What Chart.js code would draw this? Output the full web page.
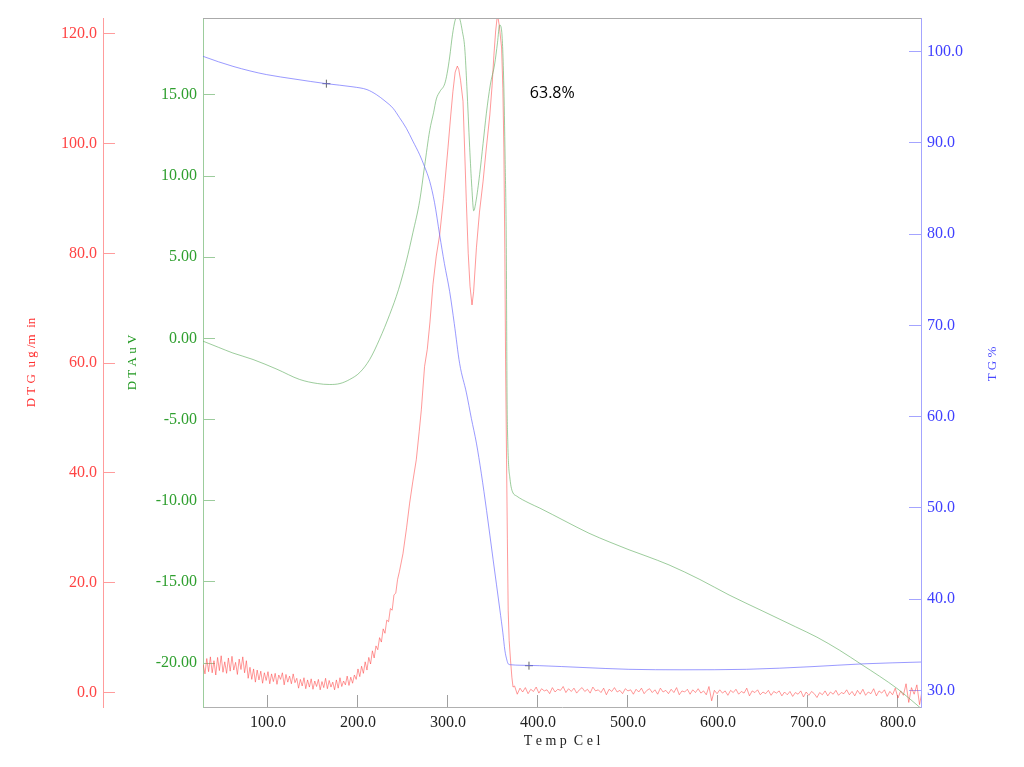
<!DOCTYPE html>
<html><head><meta charset="utf-8">
<script src="https://cdn.jsdelivr.net/npm/chart.js@4.4.1/dist/chart.umd.min.js"></script>
<style>html,body{margin:0;padding:0;background:#fff;}canvas{display:block;}</style>
</head><body>
<canvas id="c" width="1024" height="767"></canvas>
<script>
// ---- tick labels ----
const xTicks=[100,200,300,400,500,600,700,800];
const dtgTicks=[0,20,40,60,80,100,120];
const dtaTicks=[-20,-15,-10,-5,0,5,10,15];
const tgTicks=[30,40,50,60,70,80,90,100];

// ---- DTG (ug/min) ----
const dtgTempLow=[28,30,32,34,36,38,40,42,44,46,48,50,52,54,56,58,60,62,64,66,68,70,72,74,76,
78,80,82,84,86,88,90,92,94,96,98,100,102,104,106,108,110,112,114,116,118,120,122,124,126,128,130,
132,134,136,138,140,142,144,146,148,150,152,154,156,158,160,162,164,166,168,170,172,174,176,178,180,182,184,186,188,190,192,194,196,
198,200,202,204,206,208,210,212,214,216,
218,220,222,224,226,228,230,232,234,236,238,240,242,244];
const dtgLow=[5.1,3.4,6.2,3.8,6.5,3.6,5.8,3.2,6.4,4.0,6.7,3.7,5.6,3.5,6.3,3.9,6.6,4.1,5.5,3.3,6.1,4.2,6.5,3.6,5.8,
2.6,4.6,2.4,4.3,1.9,4.1,2.3,3.9,1.7,3.6,2.2,3.8,1.6,3.4,2.0,3.5,1.5,3.2,2.4,3.6,1.4,3.3,1.9,3.0,1.6,3.4,1.8,
2.6,0.8,2.4,1.2,2.7,0.7,2.3,1.0,2.5,0.6,2.1,1.1,2.4,0.5,2.0,0.9,2.6,0.7,2.2,1.0,1.9,0.5,2.3,0.8,2.7,1.1,2.1,1.4,3.0,1.3,2.8,1.7,3.2,
2.4,4.3,2.9,4.8,3.5,5.6,4.1,6.4,5.2,7.6,
6.3,8.5,7.8,10.0,9.2,11.6,10.8,13.2,12.9,15.3,15.0,17.8,18.1,20.6];
const dtgTempPeak=[246,250,254,257.4,261,264.8,268,270.4,274,277,280,283.3,287,290.8,295,300,303,305.5,308,310.4,
312,314,316.7,318.5,320.4,322.5,324.5,326.7,328.5,331.6,335,339,342.5,346.5,349,351,353,355,357,359.6,
361,362.1,363.2,364,365.1,366,366.9,368,369.5,371,372.3];
const dtgPeak=[22.0,25.3,30.0,34.5,38.5,42.4,47.5,51.5,59.4,62.5,67.5,74.3,79.5,83.4,90.0,99.2,105.0,109.5,113.0,114.1,
113.5,111.5,107.7,99.0,89.4,80.0,74.0,70.6,73.0,81.0,87.5,93.1,99.0,105.2,110.5,116.0,120.5,123.5,121.5,117.4,
110.0,99.2,80.0,60.6,42.4,28.0,15.0,9.5,5.9,2.8,1.0];
const dtgTempHigh=[374,377,380,383,386,389,392,395,398,401,404,407,410,413,416,419,422,425,428,431,434,437,440,443,446,
449,452,455,458,461,464,467,470,473,476,479,482,485,488,491,494,497,500,503,506,509,512,515,518,521,
524,527,530,533,536,539,542,545,548,551,554,557,560,563,566,569,572,575,578,581,584,587,590,593,596,
599,602,605,608,611,614,617,620,623,626,629,632,635,638,641,644,647,650,653,656,659,662,665,668,671,
674,677,680,683,686,689,692,695,698,701,704,707,710,713,716,719,722,725,728,731,734,737,740,743,746,
749,752,755,758,761,764,767,770,773,776,779,782,785,788,791,794,797,800,803,806,809,812,815,818,821,824,827];
const dtgHigh=[1.2,-0.3,0.8,0.1,0.9,-0.2,0.6,0.2,1.0,-0.1,0.7,0.3,0.5,-0.2,0.9,0.1,0.6,0.4,1.1,0.0,0.7,0.2,0.8,-0.1,0.5,
0.9,0.2,0.6,-0.1,1.0,0.3,0.5,0.0,0.8,-0.4,0.6,0.2,0.9,0.1,0.4,-0.2,0.7,0.3,0.5,-0.3,0.6,0.1,0.8,-0.2,0.4,
0.7,0.0,0.5,-0.3,0.8,0.1,0.4,-0.2,0.6,0.0,0.9,-0.4,0.3,0.1,0.6,-0.3,0.5,0.0,0.7,-0.1,0.3,-0.4,1.1,-1.5,0.4,
-0.2,0.5,-0.1,0.3,-0.5,0.4,0.0,0.6,-0.3,0.2,-0.1,0.8,-0.6,0.3,0.0,0.5,-0.4,0.1,-0.2,0.4,-0.5,0.2,-0.1,0.3,-0.6,
0.1,-0.4,0.2,-0.7,0.0,-0.3,0.3,-0.8,0.1,-0.5,0.2,-0.2,-0.9,0.0,-0.4,0.3,-0.6,0.1,-0.3,0.4,-0.5,0.0,-0.2,0.5,-0.4,
0.2,-0.6,0.4,-0.3,0.6,-0.5,0.1,-0.2,0.7,-0.6,0.3,-0.1,0.5,-0.7,0.2,-0.4,0.8,-1.0,0.3,-0.5,1.6,-1.8,0.9,-0.3,1.4,-2.2,0.5];

// ---- DTA (uV) ----
const dtaTemp=[27.8,45,61,83.4,110,135.2,155,168.6,180,190.8,202,213,224,235.3,245,253.8,261,268.6,274,279.7,
284,287.1,291,296.4,299,301.9,305,308,311.1,313.5,316,318.6,321,324.1,326.5,328.6,331,335.2,339,342.6,
347,351.9,355,357.4,359.5,361.9,363.5,364.8,365.6,366.5,367.5,368.6,370,372.3,376,390,402,430,456.7,480,
501.2,520,545.6,580,612.3,650,686.2,710,735,760,779.4,800,823.8,826];
const dta=[-0.17,-0.55,-0.9,-1.3,-1.9,-2.53,-2.78,-2.84,-2.78,-2.53,-2.1,-1.3,-0.05,1.48,3.0,4.77,6.5,8.48,10.6,12.8,
13.9,14.75,15.2,15.68,16.3,17.33,18.7,19.6,19.95,19.6,18.9,17.9,15.5,11.77,9.3,7.86,8.4,10.1,12.0,13.83,
15.6,16.9,18.2,19.3,19.0,15.9,11.0,5.6,-3.35,-6.5,-7.9,-8.5,-9.1,-9.52,-9.7,-10.14,-10.45,-11.25,-12.0,-12.55,
-13.02,-13.4,-13.95,-14.85,-15.8,-16.8,-17.76,-18.4,-19.2,-20.1,-20.8,-21.6,-22.7,-22.8];

// ---- TG (%) ----
const tgTemp=[27.8,45,61.1,80,98.2,130,164.9,194.5,210,220.5,230,239,246,253.8,261,268.6,274,279.7,285,290.8,
296,301.9,307,313,320.5,326,331.6,337,342.9,350.2,357.7,361,363.2,365.5,366.9,370,380,401.9,450,501,
560,631.6,705.6,761,826];
const tg=[99.5,98.9,98.4,97.9,97.5,97.0,96.5,96.15,95.85,95.3,94.6,93.8,92.8,91.6,90.2,88.7,87.4,85.8,83.5,79.9,
76.8,73.7,70.2,65.8,62.6,59.8,57.1,53.8,49.7,44.3,38.8,36.3,34.4,33.3,32.9,32.8,32.75,32.7,32.5,32.3,
32.25,32.3,32.6,32.9,33.1];

// step-analysis markers on TG curve
const markTemp=[164.9,390];
const markTG=[96.5,32.7];
const stepLabel='63.8%';
const stepLabelAt=[391,95.4];

const pts=(xs,ys)=>xs.map((x,i)=>({x:x,y:ys[i]}));
const dtgTemp=dtgTempLow.concat(dtgTempPeak,dtgTempHigh);
const dtg=dtgLow.concat(dtgPeak,dtgHigh);

const SERIF='"Liberation Serif", "DejaVu Serif", serif';
const fixTicks=arr=>s=>{s.ticks=arr.map(v=>({value:v}));};
const vFit=w=>s=>{s.width=w;s.paddingTop=0;s.paddingBottom=0;};

const deco={
  id:'deco',
  afterDraw(chart){
    const {ctx,chartArea:a,scales}=chart;
    ctx.save();
    ctx.strokeStyle='#aaaaaa';ctx.lineWidth=1;
    ctx.beginPath();ctx.moveTo(a.left,Math.round(a.top)+0.5);ctx.lineTo(a.right,Math.round(a.top)+0.5);ctx.stroke();
    ctx.fillStyle='#000';ctx.font='16px "Open Sans", "Noto Sans", sans-serif';
    ctx.textAlign='left';ctx.textBaseline='middle';
    ctx.fillText(stepLabel,scales.x.getPixelForValue(stepLabelAt[0]),scales.yTG.getPixelForValue(stepLabelAt[1]));
    ctx.translate(993,364);ctx.rotate(-Math.PI/2);
    ctx.fillStyle='#4848ff';ctx.font='13px '+SERIF;ctx.textAlign='center';
    ctx.fillText('T G %',0,0);
    ctx.restore();
  }
};

const axisCol={dtg:'#ff9c9c',dta:'#9ccc9c',tg:'#a4a4ff',x:'#b0b0b0'};

new Chart(document.getElementById('c'),{
  type:'line',
  data:{datasets:[
    {label:'TG',yAxisID:'yTG',data:pts(tgTemp,tg),borderColor:'rgba(100,100,255,0.65)',borderWidth:1,pointRadius:0,cubicInterpolationMode:'monotone'},
    {label:'DTA',yAxisID:'yDTA',data:pts(dtaTemp,dta),borderColor:'rgba(90,170,90,0.6)',borderWidth:1,pointRadius:0,cubicInterpolationMode:'monotone'},
    {label:'DTG',yAxisID:'yDTG',data:pts(dtgTemp,dtg),borderColor:'rgba(255,70,70,0.55)',borderWidth:1,pointRadius:0,tension:0},
    {label:'marks',type:'scatter',yAxisID:'yTG',data:pts(markTemp,markTG),pointStyle:'cross',pointRadius:4,borderColor:'#666',borderWidth:1,showLine:false}
  ]},
  options:{
    responsive:false,animation:false,devicePixelRatio:1,
    layout:{padding:{top:18,left:0,right:0,bottom:0}},
    plugins:{legend:{display:false},tooltip:{enabled:false}},
    scales:{
      x:{type:'linear',position:'bottom',min:27.8,max:825.6,
        afterBuildTicks:fixTicks(xTicks),
        afterFit:s=>{s.height=60;s.paddingLeft=0;s.paddingRight=0;},
        ticks:{callback:v=>Number(v).toFixed(1),font:{family:SERIF,size:16},color:'#222',padding:18,maxRotation:0},
        grid:{drawOnChartArea:false,tickLength:-12,color:'#a0a0a0',tickColor:'#a0a0a0'},
        border:{display:true,width:1,color:axisCol.x},
        title:{display:true,text:'T e m p  C e l',font:{family:SERIF,size:14},color:'#222',padding:{top:0,bottom:17}}
      },
      yDTG:{type:'linear',position:'left',weight:2,min:-2.63,max:122.86,
        afterBuildTicks:fixTicks(dtgTicks),
        afterFit:vFit(103),
        ticks:{callback:v=>Number(v).toFixed(1),font:{family:SERIF,size:16},color:'#ff4444',padding:18},
        grid:{drawOnChartArea:false,tickLength:-12,color:axisCol.dtg,tickColor:axisCol.dtg},
        border:{display:true,width:1,color:axisCol.dtg},
        title:{display:true,text:'D T G  u g /m  in',font:{family:SERIF,size:13},color:'#ff3030',padding:{top:24,bottom:0}}
      },
      yDTA:{type:'linear',position:'left',weight:1,min:-22.70,max:19.73,
        afterBuildTicks:fixTicks(dtaTicks),
        afterFit:vFit(100),
        ticks:{callback:v=>Number(v).toFixed(2),font:{family:SERIF,size:16},color:'#2f9f2f',padding:18},
        grid:{drawOnChartArea:false,tickLength:-12,color:axisCol.dta,tickColor:axisCol.dta},
        border:{display:true,width:1,color:axisCol.dta},
        title:{display:true,text:'D T A u V',font:{family:SERIF,size:13},color:'#229922',padding:{top:22,bottom:0}}
      },
      yTG:{type:'linear',position:'right',min:28.17,max:103.70,
        afterBuildTicks:fixTicks(tgTicks),
        afterFit:vFit(103),
        ticks:{callback:v=>Number(v).toFixed(1),font:{family:SERIF,size:16},color:'#4040ff',padding:18},
        grid:{drawOnChartArea:false,tickLength:-12,color:axisCol.tg,tickColor:axisCol.tg},
        border:{display:true,width:1,color:axisCol.tg}
      }
    }
  },
  plugins:[deco]
});
</script>
</body></html>
